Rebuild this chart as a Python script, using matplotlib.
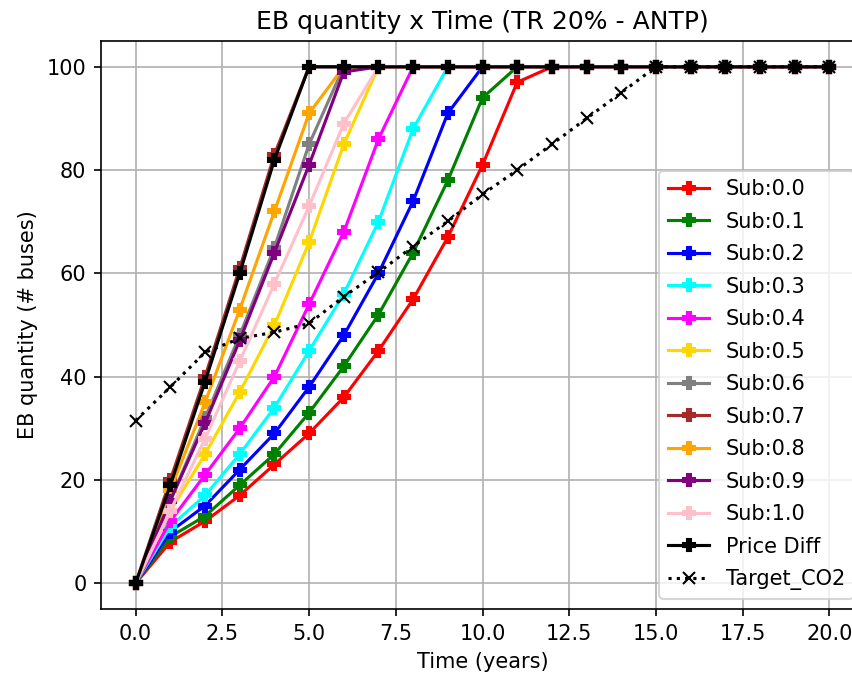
import matplotlib
matplotlib.use("Agg")
import matplotlib.pyplot as plt

years = list(range(21))

sub_labels = ["Sub:0.0", "Sub:0.1", "Sub:0.2", "Sub:0.3", "Sub:0.4", "Sub:0.5",
              "Sub:0.6", "Sub:0.7", "Sub:0.8", "Sub:0.9", "Sub:1.0"]
sub_colors = ["red", "green", "blue", "cyan", "magenta", "gold",
              "gray", "brown", "orange", "purple", "pink"]

# EB quantity per year for each subsidy level
sub_00 = [0, 8, 12, 17, 23, 29, 36, 45, 55, 67, 81, 97] + [100] * 9
sub_01 = [0, 9, 13, 19, 25, 33, 42, 52, 64, 78, 94] + [100] * 10
sub_02 = [0, 10, 15, 22, 29, 38, 48, 60, 74, 91] + [100] * 11
sub_03 = [0, 11, 17, 25, 34, 45, 56, 70, 88] + [100] * 12
sub_04 = [0, 12, 21, 30, 40, 54, 68, 86] + [100] * 13
sub_05 = [0, 14, 25, 37, 50, 66, 85] + [100] * 14
sub_06 = [0, 16, 32, 48, 65, 85] + [100] * 15
sub_07 = [0, 20, 40, 61, 83] + [100] * 16
sub_08 = [0, 18, 35, 53, 72, 91] + [100] * 15
sub_09 = [0, 16, 31, 47, 64, 81, 99] + [100] * 14
sub_10 = [0, 14, 28, 43, 58, 73, 89] + [100] * 14
sub_values = [sub_00, sub_01, sub_02, sub_03, sub_04, sub_05,
              sub_06, sub_07, sub_08, sub_09, sub_10]

price_diff = [0, 19, 39, 60, 82] + [100] * 16
target_co2 = [31.5, 38, 44.7, 47.4, 48.6, 50.3, 55.5, 60.2, 65.2, 70.1,
              75.3, 80, 85, 90, 95] + [100] * 6

fig = plt.figure(figsize=(852 / 150, 677 / 150), dpi=150)
# axes runs a little past the right edge, as in the original crop
ax = fig.add_axes([101 / 852, 68 / 677, 763 / 852, 568 / 677])

for label, color, vals in zip(sub_labels, sub_colors, sub_values):
    ax.plot(years, vals, marker="P", color=color, label=label)
ax.plot(years, price_diff, marker="P", color="black", label="Price Diff")
ax.plot(years, target_co2, marker="x", linestyle=":", color="black", label="Target_CO2")

ax.set_title("EB quantity x Time (TR 20% - ANTP)")
ax.set_xlabel("Time (years)")
ax.set_ylabel("EB quantity (# buses)")
ax.grid(True)
ax.legend(loc="lower right", labelspacing=0.6)

fig.savefig("out.png", dpi=150)
